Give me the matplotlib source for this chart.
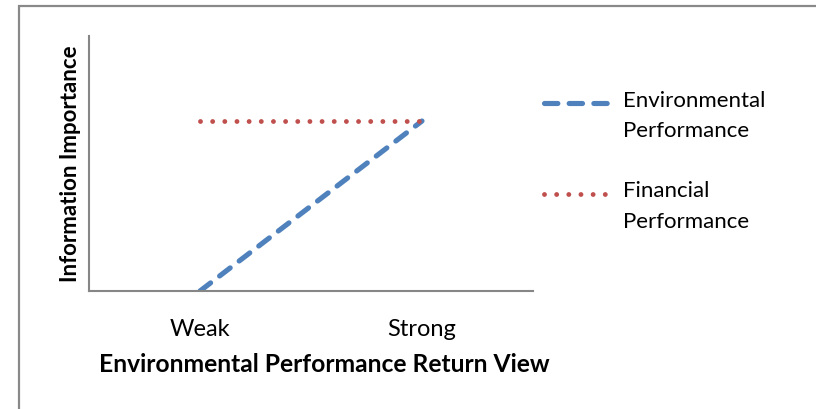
import matplotlib.pyplot as plt
from matplotlib.patches import Rectangle

# series data
categories = ["Weak", "Strong"]
environmental = [0, 1]
financial = [1, 1]
series_labels = ["Environmental\nPerformance", "Financial\nPerformance"]

plt.rcParams['font.family'] = ['Lato', 'DejaVu Sans']

fig = plt.figure(figsize=(8.16, 4.09), dpi=100)

# chart frame
fig.patches.append(Rectangle((19 / 816, -0.2), 2.0, 1.2 - 6 / 409,
                             transform=fig.transFigure, fill=False,
                             edgecolor='#898989', linewidth=1.6))

ax = fig.add_axes([89 / 816, 1 - 291 / 409, 444 / 816, 255 / 409])
x = range(len(categories))

ax.plot(x, environmental, color='#4F81BD', linewidth=3.7,
        linestyle=(0, (2.6, 2.2)), dash_capstyle='round',
        label=series_labels[0])
ax.plot(x, financial, color='#C0504D', linewidth=3.5,
        linestyle=(0, (0.001, 2.5)), dash_capstyle='round',
        label=series_labels[1])

ax.set_xlim(-0.5, 1.5)
ax.set_ylim(0, 1.5)
ax.set_xticks(list(x))
ax.set_xticklabels(categories, fontsize=17)
ax.set_yticks([])
ax.tick_params(axis='x', length=0, pad=20)

for side in ['top', 'right']:
    ax.spines[side].set_visible(False)
for side in ['left', 'bottom']:
    ax.spines[side].set_color('#868686')
    ax.spines[side].set_linewidth(1.5)

ax.set_ylabel("Information Importance", fontsize=16, fontweight='bold', labelpad=6)
fig.text(324 / 816, 1 - 365 / 409, "Environmental Performance Return View",
         fontsize=17.7, fontweight='bold', ha='center', va='center')

leg = ax.legend(loc='upper left', bbox_to_anchor=(544 / 816, 1 - 91 / 409),
                bbox_transform=fig.transFigure, frameon=False, fontsize=16,
                handlelength=3.0, handletextpad=0.55, labelspacing=1.8,
                borderpad=0, borderaxespad=0)
for t in leg.get_texts():
    t.set_linespacing(1.65)
# put each legend line level with the first line of its label
for line in leg.get_lines():
    line.set_ydata([y + 9.5 for y in line.get_ydata()])

fig.savefig("out.png", dpi=100)
